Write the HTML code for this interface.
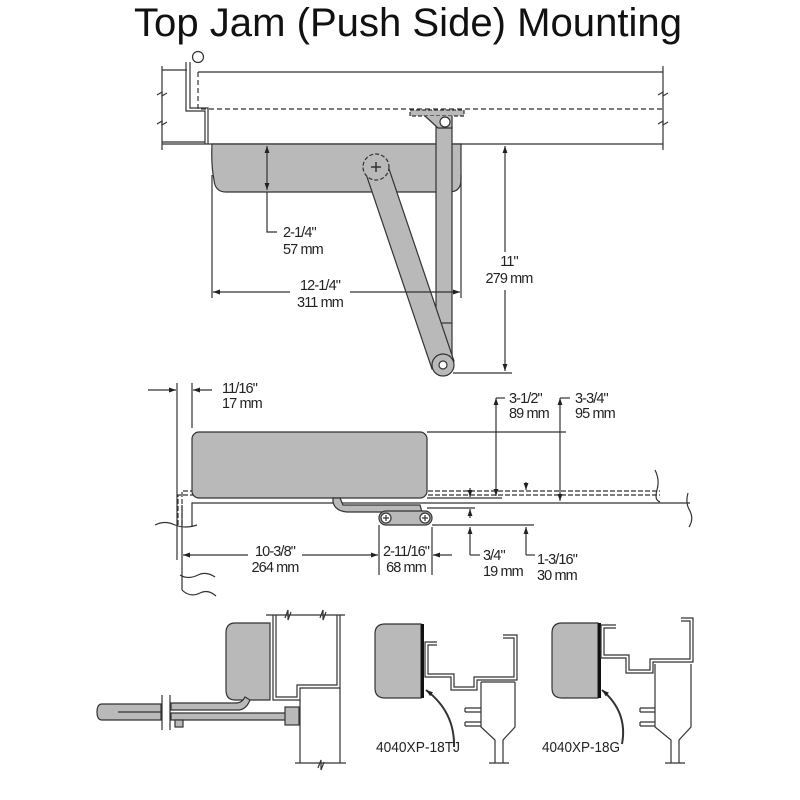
<!DOCTYPE html>
<html><head><meta charset="utf-8"><style>
html,body{margin:0;padding:0;background:#fff}
svg{display:block}
text{font-family:"Liberation Sans Narrow","Liberation Sans",sans-serif;fill:#222}
.d{font-size:14.5px;letter-spacing:-0.9px}
</style></head><body>
<svg width="800" height="800" viewBox="0 0 800 800" xmlns="http://www.w3.org/2000/svg">
<defs>
<marker id="a" viewBox="0 0 10 10" refX="10" refY="5" markerWidth="7" markerHeight="7" orient="auto-start-reverse" markerUnits="userSpaceOnUse"><path d="M0,1.5 L10,5 L0,8.5z" fill="#222"/></marker>
</defs>
<text x="408" y="36" text-anchor="middle" style="font-family:'Liberation Sans',sans-serif;font-size:40px;fill:#111" textLength="548" lengthAdjust="spacingAndGlyphs">Top Jam (Push Side)  Mounting</text>

<g stroke="#333" stroke-width="1.2" fill="none">
<line x1="162" y1="66" x2="162" y2="150"/>
<line x1="663" y1="66" x2="663" y2="150"/>
<path d="M157,95 l5,-3 l0,4 l5,-3 M157,124 l5,-3 l0,4 l5,-3 M658,95 l5,-3 l0,4 l5,-3 M658,124 l5,-3 l0,4 l5,-3"/>
<line x1="198" y1="72" x2="663" y2="72"/>
<line x1="162" y1="70" x2="187" y2="70"/>
<line x1="162" y1="144" x2="663" y2="144"/>
<line x1="162" y1="142" x2="205" y2="142"/>
<path d="M186,62 L186,111 L205,111 L205,144 M190,62 L190,108 L208,108 L208,144"/>
<circle cx="198" cy="57" r="5.5" fill="#fff"/>
<path d="M198,72 L198,109 L663,109" stroke-dasharray="5,3"/>
<path d="M212,144 L461,144 L461,180 Q461,192 449,192 L226,192 Q215,192 214,180 Q211,165 212,144z" fill="#b9b9b9"/>
<path d="M436,127 L452,127 L452,362 L436,340z" fill="#b9b9b9"/>
<line x1="436" y1="323" x2="452" y2="323"/>
<path d="M410,110 L464,110 L464,116 L410,116z" fill="#b9b9b9" stroke-dasharray="4,2"/>
<path d="M425,116 L438,128 L452,128 L452,116" fill="#b9b9b9"/>
<circle cx="445" cy="122" r="5" fill="#fff"/>
<path d="M365,171 L387,163 L454,361 L432,369z" fill="#b9b9b9"/>
<circle cx="443" cy="365" r="11" fill="#b9b9b9"/>
<circle cx="443" cy="365" r="4" fill="#fff"/>
<circle cx="376" cy="167" r="13" fill="#b9b9b9" stroke-dasharray="4,2"/>
<path d="M371,167 h10 M376,162 v10" stroke-width="1.5"/>
<line x1="267" y1="146" x2="267" y2="190" marker-start="url(#a)" marker-end="url(#a)"/>
<path d="M267,192 L267,232 L277,232"/>
<line x1="212" y1="175" x2="212" y2="298"/>
<line x1="461" y1="175" x2="461" y2="298"/>
<line x1="213" y1="292" x2="290" y2="292" marker-start="url(#a)"/>
<line x1="350" y1="292" x2="460" y2="292" marker-end="url(#a)"/>
<line x1="505" y1="146" x2="505" y2="252" marker-start="url(#a)"/>
<line x1="505" y1="290" x2="505" y2="371" marker-end="url(#a)"/>
<line x1="453" y1="373" x2="512" y2="373"/>
</g>
<text class="d" x="283" y="237">2-1/4"</text>
<text class="d" x="283" y="254">57 mm</text>
<text class="d" x="320" y="290" text-anchor="middle">12-1/4"</text>
<text class="d" x="320" y="307" text-anchor="middle">311 mm</text>
<text class="d" x="509" y="266" text-anchor="middle">11"</text>
<text class="d" x="509" y="283" text-anchor="middle">279 mm</text>

<g stroke="#333" stroke-width="1.2" fill="none">
<line x1="177" y1="383" x2="177" y2="560"/>
<line x1="192" y1="383" x2="192" y2="428"/>
<line x1="148" y1="390" x2="176" y2="390" marker-end="url(#a)"/>
<line x1="212" y1="390" x2="193" y2="390" marker-end="url(#a)"/>
<path d="M182,525 L182,491 L660,491 M178,525 L178,495 L660,495" stroke-dasharray="5,2"/>
<path d="M192,527 L192,503 L690,503"/>
<path d="M655,470 q5,10 2,20 q-3,10 3,12 M688,493 q-3,10 2,18 q4,8 -1,16"/>
<path d="M155,525 q10,-5 20,0 q10,4 22,0 M180,575 q8,5 18,0 q8,-4 17,2"/>
<rect x="192" y="432" width="235" height="66" rx="7" fill="#b9b9b9"/>
<path d="M333,498 L340,498 L343,505 L420,505 L422,512 L347,512 Q335,511 333,502z" fill="#b9b9b9"/>
<rect x="379" y="511" width="53" height="14" rx="7" fill="#b9b9b9"/>
<circle cx="386" cy="518" r="5" fill="#fff"/><circle cx="425" cy="518" r="5" fill="#fff"/>
<path d="M383,518 h6 M386,515 v6 M422,518 h6 M425,515 v6"/>
<line x1="427" y1="432" x2="566" y2="432"/>
<line x1="427" y1="498" x2="502" y2="498"/>
<line x1="427" y1="508" x2="475" y2="508"/>
<line x1="432" y1="525" x2="534" y2="525"/>
<line x1="496" y1="398" x2="496" y2="496" marker-start="url(#a)" marker-end="url(#a)"/>
<path d="M496,398 L505,398"/>
<line x1="560" y1="398" x2="560" y2="501" marker-start="url(#a)" marker-end="url(#a)"/>
<path d="M560,398 L570,398"/>
<line x1="470" y1="488" x2="470" y2="497" marker-end="url(#a)"/>
<line x1="470" y1="518" x2="470" y2="509" marker-end="url(#a)"/>
<line x1="526" y1="482" x2="526" y2="490" marker-end="url(#a)"/>
<line x1="470" y1="555" x2="470" y2="527" marker-end="url(#a)"/>
<path d="M470,555 L480,555"/>
<line x1="526" y1="555" x2="526" y2="527" marker-end="url(#a)"/>
<path d="M526,555 L535,555"/>
<line x1="182" y1="505" x2="182" y2="590"/>
<path d="M182,590 q8,8 18,3 q8,-4 16,3"/>
<line x1="379" y1="525" x2="379" y2="575"/>
<line x1="432" y1="527" x2="432" y2="575"/>
<line x1="183" y1="555" x2="248" y2="555" marker-start="url(#a)"/>
<line x1="302" y1="555" x2="378" y2="555" marker-end="url(#a)"/>
<line x1="452" y1="555" x2="433" y2="555" marker-end="url(#a)"/>
</g>
<text class="d" x="222" y="393">11/16"</text>
<text class="d" x="222" y="408">17 mm</text>
<text class="d" x="509" y="403">3-1/2"</text>
<text class="d" x="509" y="418">89 mm</text>
<text class="d" x="575" y="403">3-3/4"</text>
<text class="d" x="575" y="418">95 mm</text>
<text class="d" x="483" y="560">3/4"</text>
<text class="d" x="483" y="576">19 mm</text>
<text class="d" x="537" y="564">1-3/16"</text>
<text class="d" x="537" y="580">30 mm</text>
<text class="d" x="275" y="556" text-anchor="middle">10-3/8"</text>
<text class="d" x="275" y="572" text-anchor="middle">264 mm</text>
<text class="d" x="406" y="556" text-anchor="middle">2-11/16"</text>
<text class="d" x="406" y="572" text-anchor="middle">68 mm</text>

<g stroke="#333" stroke-width="1.2" fill="none">
<line x1="266" y1="615" x2="345" y2="615"/>
<path d="M285,618 l3,-8 l0,10 l3,-8 M320,618 l3,-8 l0,10 l3,-8"/>
<path d="M273,615 L273,700 L300,700 L300,688 L340,688 L340,615 M276,615 L276,697 L297,697 L297,685 L337,685 L337,615"/>
<line x1="300" y1="700" x2="300" y2="763"/>
<line x1="340" y1="688" x2="340" y2="763"/>
<line x1="295" y1="763" x2="346" y2="763"/>
<path d="M318,768 l3,-8 l0,10 l3,-8"/>
<path d="M235,623 L270,623 L270,700 L235,700 Q226,700 226,690 L226,633 Q226,623 235,623z" fill="#b9b9b9"/>
<path d="M171,703 L236,703 Q242,703 245,697 L250,700 Q246,710 238,710 L171,710z" fill="#b9b9b9"/>
<path d="M171,713 L295,713 L295,720 L171,720z" fill="#b9b9b9"/>
<rect x="285" y="707" width="14" height="18" fill="#b9b9b9"/>
<path d="M102,704 L161,704 L161,720 L102,720 Q97,720 97,712 Q97,704 102,704z" fill="#b9b9b9"/>
<line x1="118" y1="712" x2="161" y2="712"/>
<rect x="175" y="720" width="8" height="7" fill="#b9b9b9"/>
<line x1="162" y1="695" x2="162" y2="730"/><line x1="170" y1="695" x2="170" y2="730"/>
<path d="M385,624 L421,624 L421,698 L385,698 Q375,698 375,688 L375,634 Q375,624 385,624z" fill="#b9b9b9"/>
<rect x="421" y="624" width="3" height="74" fill="#111" stroke="none"/>
<path d="M437,642 L425,642 L425,677 L451,677 L451,690 L477,690 L477,680 L517,680 L517,635 L503,635 M437,645 L428,645 L428,674 L454,674 L454,687 L474,687 L474,677 L514,677 L514,638 L503,638"/>
<path d="M481,682 L481,727 L495,740 L495,763 M515,682 L515,727 L503,740 L503,763 M481,682 L515,682"/>
<path d="M465,708 L481,708 M465,712 L481,712 M465,722 L481,722 M465,726 L481,726 M465,708 L465,712 M465,722 L465,726"/>
<line x1="489" y1="763" x2="509" y2="763"/>
<path d="M454,747 Q455,712 426,690" stroke-width="2" marker-end="url(#a)"/>
<path d="M562,623 L598,623 L598,698 L562,698 Q552,698 552,688 L552,633 Q552,623 562,623z" fill="#b9b9b9"/>
<rect x="598" y="623" width="3" height="75" fill="#111" stroke="none"/>
<path d="M616,625 L601,625 L601,658 L626,658 L626,673 L653,673 L653,662 L693,662 L693,618 L681,618 M616,628 L604,628 L604,655 L629,655 L629,670 L650,670 L650,659 L690,659 L690,621 L681,621"/>
<path d="M655,664 L655,727 L671,740 L671,763 M691,664 L691,727 L679,740 L679,763"/>
<path d="M640,708 L655,708 M640,712 L655,712 M640,722 L655,722 M640,726 L655,726 M640,708 L640,712 M640,722 L640,726"/>
<line x1="665" y1="763" x2="685" y2="763"/>
<path d="M622,744 Q628,712 602,690" stroke-width="2" marker-end="url(#a)"/>
</g>
<text x="376" y="752" style="font-size:15px" textLength="84" lengthAdjust="spacingAndGlyphs">4040XP-18TJ</text>
<text x="542" y="752" style="font-size:15px" textLength="78" lengthAdjust="spacingAndGlyphs">4040XP-18G</text>
</svg>
</body></html>
